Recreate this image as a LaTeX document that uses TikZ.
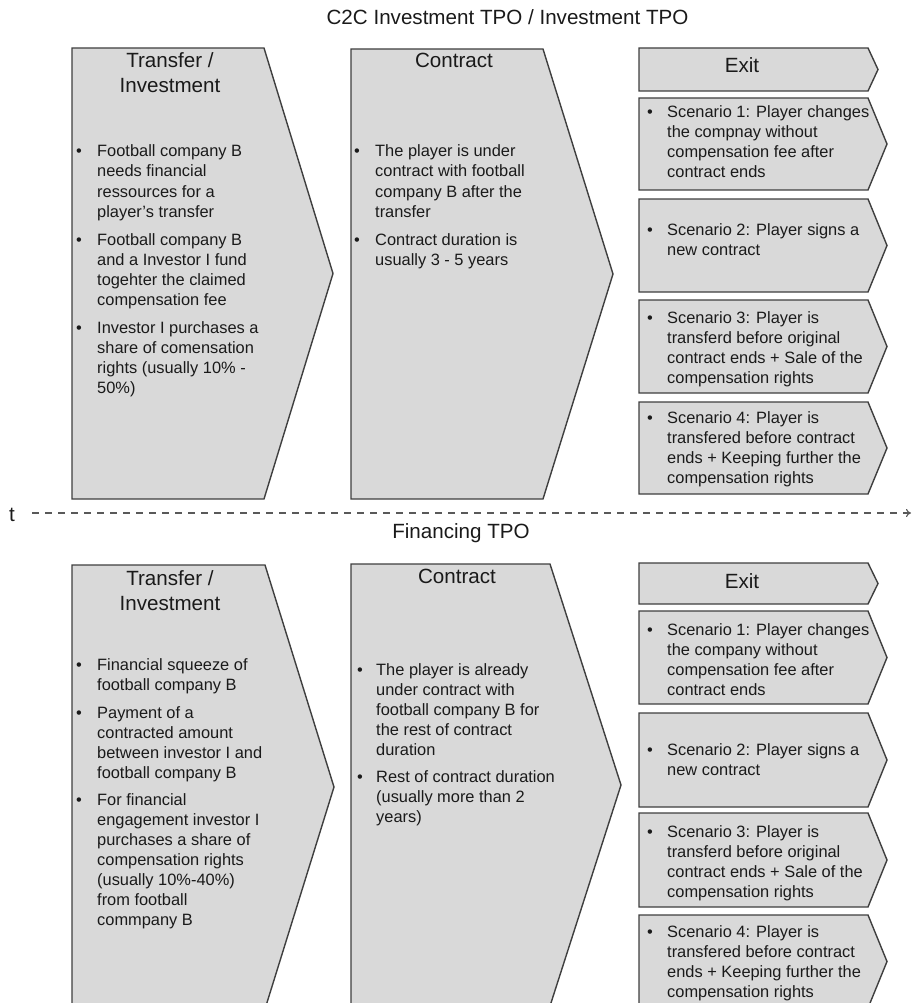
\documentclass[tikz,border=0pt]{standalone}
\usepackage{fontspec}
\setmainfont{Liberation Sans}
\usetikzlibrary{arrows.meta}
\definecolor{boxfill}{HTML}{D9D9D9}
\definecolor{boxline}{HTML}{3F3F3F}
\definecolor{ink}{HTML}{1A1A1A}
\definecolor{dashc}{HTML}{595959}
\begin{document}
\begin{tikzpicture}[x=1pt,y=-1pt,
 shapebox/.style={fill=boxfill,draw=boxline,line width=1.4pt,line join=miter},
 body/.style={anchor=base west,align=left,inner sep=0pt,text=ink,font=\fontsize{16.4}{20}\selectfont},
 bdot/.style={anchor=base,inner sep=0pt,text=ink,font=\fontsize{16.4}{20}\selectfont},
 head/.style={anchor=base,inner sep=0pt,text=ink,font=\fontsize{20.6}{25}\selectfont},
]
\useasboundingbox (0,0) rectangle (912,1003);
\clip (0,0) rectangle (912,1003);

% ---------- titles ----------
\node[head] (title1) at (507.5,25) {C2C Investment TPO / Investment TPO};
\node[head] (title2) at (461,538) {Financing TPO};

% ---------- time axis ----------
\node[head] (tlab) at (12,521) {t};
\coordinate (tstart) at (32,513);
\coordinate (tend) at (911,513);
\draw[dashc,line width=1.1pt,dash pattern=on 7pt off 6pt,-{To[length=5pt,width=8pt]}] (tstart) -- (tend);

% ---------- top row shapes ----------
\draw[shapebox] (72,48) -- (264,48) -- (333,273.5) -- (264,499) -- (72,499) -- cycle;
\draw[shapebox] (351,49) -- (543,49) -- (613,274) -- (543,499) -- (351,499) -- cycle;
\draw[shapebox] (639,48) -- (868,48) -- (878,69.5) -- (868,91) -- (639,91) -- cycle;
\draw[shapebox] (639,98) -- (868,98) -- (887,144) -- (868,190) -- (639,190) -- cycle;
\draw[shapebox] (639,199) -- (868,199) -- (887,245.5) -- (868,292) -- (639,292) -- cycle;
\draw[shapebox] (639,300) -- (868,300) -- (887,346.5) -- (868,393) -- (639,393) -- cycle;
\draw[shapebox] (639,402) -- (868,402) -- (887,448) -- (868,494) -- (639,494) -- cycle;

% ---------- bottom row shapes ----------
\draw[shapebox] (72,565) -- (265,565) -- (334,787) -- (265,1009) -- (72,1009) -- cycle;
\draw[shapebox] (351,564) -- (550,564) -- (621,785) -- (550,1006) -- (351,1006) -- cycle;
\draw[shapebox] (639,563) -- (868,563) -- (878,583.5) -- (868,604) -- (639,604) -- cycle;
\draw[shapebox] (639,611) -- (868,611) -- (887,657.5) -- (868,704) -- (639,704) -- cycle;
\draw[shapebox] (639,713) -- (868,713) -- (887,760) -- (868,807) -- (639,807) -- cycle;
\draw[shapebox] (639,813) -- (868,813) -- (887,860) -- (868,907) -- (639,907) -- cycle;
\draw[shapebox] (639,915) -- (868,915) -- (887,961.5) -- (868,1008) -- (639,1008) -- cycle;

% (body nodes are placed at the baseline of their LAST line)
% ---------- top: Transfer / Investment ----------
\node[head] (th1a) at (170,68) {Transfer /};
\node[head] (th1b) at (170,93) {Investment};
\node[bdot] (td11) at (79,157) {\textbullet};
\node[body] (tt11) at (97,217) {Football company B\\needs financial\\ressources for a\\player's transfer};
\node[bdot] (td12) at (79,245) {\textbullet};
\node[body] (tt12) at (97,305) {Football company B\\and a Investor I fund\\togehter the claimed\\compensation fee};
\node[bdot] (td13) at (79,333) {\textbullet};
\node[body] (tt13) at (97,393) {Investor I purchases a\\share of comensation\\rights (usually  10\% -\\50\%)};

% ---------- top: Contract ----------
\node[head] (th2) at (454,68) {Contract};
\node[bdot] (td21) at (357,157) {\textbullet};
\node[body] (tt21) at (375,217) {The player is under\\contract with  football\\company B after the\\transfer};
\node[bdot] (td22) at (357,245) {\textbullet};
\node[body] (tt22) at (375,265) {Contract duration is\\usually  3 - 5 years};

% ---------- top: Exit ----------
\node[head] (th3) at (742,73) {Exit};
\node[bdot] (td31) at (650,118) {\textbullet};
\node[body] (tt31) at (667,178) {Scenario 1: Player changes\\the compnay without\\compensation fee after\\contract ends};
\node[bdot] (td32) at (650,235) {\textbullet};
\node[body] (tt32) at (667,255) {Scenario 2: Player signs a\\new contract};
\node[bdot] (td33) at (650,323) {\textbullet};
\node[body] (tt33) at (667,383) {Scenario 3: Player is\\transferd before original\\contract ends + Sale of the\\compensation rights};
\node[bdot] (td34) at (650,423) {\textbullet};
\node[body] (tt34) at (667,483) {Scenario 4: Player is\\transfered before contract\\ends + Keeping further the\\compensation rights};

% ---------- bottom: Transfer / Investment ----------
\node[head] (bh1a) at (170,585) {Transfer /};
\node[head] (bh1b) at (170,610) {Investment};
\node[bdot] (bd11) at (79,670) {\textbullet};
\node[body] (bt11) at (97,690) {Financial squeeze of\\football company  B};
\node[bdot] (bd12) at (79,718) {\textbullet};
\node[body] (bt12) at (97,778) {Payment of a\\contracted amount\\between investor I and\\football company B};
\node[bdot] (bd13) at (79,805) {\textbullet};
\node[body] (bt13) at (97,925) {For financial\\engagement  investor I\\purchases a share of\\compensation rights\\(usually 10\%-40\%)\\from football\\commpany B};

% ---------- bottom: Contract ----------
\node[head] (bh2) at (457,583) {Contract};
\node[bdot] (bd21) at (360,675) {\textbullet};
\node[body] (bt21) at (376,755) {The player is already\\under contract with\\football company B for\\the rest of contract\\duration};
\node[bdot] (bd22) at (360,782) {\textbullet};
\node[body] (bt22) at (376,822) {Rest of contract duration\\(usually more than 2\\years)};

% ---------- bottom: Exit ----------
\node[head] (bh3) at (742,588) {Exit};
\node[bdot] (bd31) at (650,635) {\textbullet};
\node[body] (bt31) at (667,695) {Scenario 1: Player changes\\the company without\\compensation fee after\\contract ends};
\node[bdot] (bd32) at (650,755) {\textbullet};
\node[body] (bt32) at (667,775) {Scenario 2: Player signs a\\new contract};
\node[bdot] (bd33) at (650,837) {\textbullet};
\node[body] (bt33) at (667,897) {Scenario 3: Player is\\transferd before original\\contract ends + Sale of the\\compensation rights};
\node[bdot] (bd34) at (650,937) {\textbullet};
\node[body] (bt34) at (667,997) {Scenario 4: Player is\\transfered before contract\\ends + Keeping further the\\compensation rights};
\end{tikzpicture}
\end{document}
